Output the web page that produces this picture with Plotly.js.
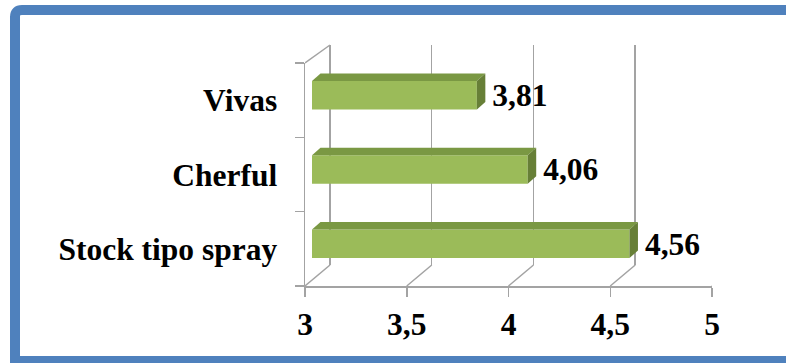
<!DOCTYPE html>
<html>
<head>
<meta charset="utf-8">
<script src="https://cdn.plot.ly/plotly-3.0.1.min.js"></script>
<style>
  html, body { margin: 0; padding: 0; background: #ffffff; }
  #chart { width: 786px; height: 363px; }
</style>
</head>
<body>
<div id="chart"></div>
<script>
// Survey scores per product (bottom to top as drawn)
const categories = ['Stock tipo spray', 'Cherful', 'Vivas'];
const scores = [4.56, 4.06, 3.81];
const xTicks = [3, 3.5, 4, 4.5, 5];

// ---- geometry (pixels) ----
const W = 786, H = 363;
const px = x => x / W;
const py = y => 1 - y / H;
const X0 = 305, X1 = 712;          // front floor edge: value 3 .. 5
const FLOOR_Y = 286, TOP_Y = 63;   // front plane vertical extent
const BACK_DX = 25, BACK_DY = 21;  // depth of the chart box
const BAR_DX = 7, BAR_DY = 5;      // front face of the bars sits a little inside
const FACE_DX = 8.5, FACE_DY = 7.5; // bar depth
const BAR_W = 0.383;
const LABEL_GAP = 7;
const xMin = 3, xMax = 5;
const unitX = (X1 - X0) / (xMax - xMin);
const unitY = (FLOOR_Y - TOP_Y) / categories.length;

const GRID = '#a3a3a3';
const GREEN = '#9bbb59', GREEN_TOP = '#7a9843', GREEN_SIDE = '#677f37';
const FONT = { family: 'Liberation Serif, Times New Roman, serif', size: 31.5, color: '#000000', weight: 'bold' };

const idx = categories.map((_, i) => i);
const dx = FACE_DX / unitX, dy = FACE_DY / unitY;

const traces = [];

// front plane (category axis and value axis)
traces.push({ type: 'scatter', mode: 'markers', x: [null], y: [null], xaxis: 'x', yaxis: 'y', hoverinfo: 'skip', showlegend: false });
// boundary ticks of the category axis
traces.push({ type: 'scatter', mode: 'markers', x: [null], y: [null], xaxis: 'x', yaxis: 'y3', hoverinfo: 'skip', showlegend: false });
// back wall (carries the vertical gridlines)
traces.push({ type: 'scatter', mode: 'markers', x: [null], y: [null], xaxis: 'x2', yaxis: 'y2', hoverinfo: 'skip', showlegend: false });

// bar front faces
traces.push({
  type: 'bar', orientation: 'h', x: scores, y: idx, width: BAR_W,
  xaxis: 'x3', yaxis: 'y4',
  marker: { color: GREEN, line: { width: 0 } },
  hoverinfo: 'skip', showlegend: false
});

// bar top and side faces
idx.forEach((c, i) => {
  const v = scores[i];
  const t = c + BAR_W / 2, b = c - BAR_W / 2;
  traces.push({
    type: 'scatter', mode: 'lines', xaxis: 'x3', yaxis: 'y4',
    x: [xMin, v, v + dx, xMin + dx, xMin],
    y: [t, t, t + dy, t + dy, t],
    fill: 'toself', fillcolor: GREEN_TOP, line: { width: 0 },
    hoverinfo: 'skip', showlegend: false
  });
  traces.push({
    type: 'scatter', mode: 'lines', xaxis: 'x3', yaxis: 'y4',
    x: [v, v + dx, v + dx, v, v],
    y: [b, b + dy, t + dy, t, b],
    fill: 'toself', fillcolor: GREEN_SIDE, line: { width: 0 },
    hoverinfo: 'skip', showlegend: false
  });
});

// value labels
traces.push({
  type: 'scatter', mode: 'text', xaxis: 'x3', yaxis: 'y4',
  x: scores.map(v => v + dx + LABEL_GAP / unitX), y: idx.map(c => c - 3 / unitY),
  text: scores.map(v => v.toFixed(2).replace('.', ',')),
  textposition: 'middle right', textfont: FONT, cliponaxis: false,
  hoverinfo: 'skip', showlegend: false
});

// floor diagonals and the top edge of the left wall
const shapes = xTicks.map(t => ({
  type: 'line', xref: 'x', yref: 'paper',
  x0: t, y0: py(FLOOR_Y), x1: t + BACK_DX / unitX, y1: py(FLOOR_Y - BACK_DY),
  line: { color: GRID, width: 1.5 }
}));
shapes.push({
  type: 'line', xref: 'x', yref: 'paper',
  x0: xMin, y0: py(TOP_Y), x1: xMin + BACK_DX / unitX, y1: py(TOP_Y - 18),
  line: { color: GRID, width: 1.5 }
});
// outer frame
shapes.push({
  type: 'path', xref: 'paper', yref: 'paper', layer: 'above',
  path: `M ${px(800)},${py(361)} L ${px(15)},${py(361)} L ${px(15)},${py(17)} Q ${px(15)},${py(10)} ${px(22)},${py(10)} L ${px(800)},${py(10)}`,
  line: { color: '#4f81bd', width: 10 }
});

const yDom = [py(FLOOR_Y), py(TOP_Y)];
const backPad = 0.01; // keeps the first back gridline inside the range
const layout = {
  width: W, height: H,
  margin: { l: 0, r: 0, t: 0, b: 0 },
  paper_bgcolor: '#ffffff', plot_bgcolor: 'rgba(0,0,0,0)',
  separators: ',.',
  showlegend: false,
  xaxis: {
    domain: [px(X0), px(X1)], range: [xMin, xMax], anchor: 'y',
    tickmode: 'array', tickvals: xTicks,
    ticks: 'outside', ticklen: 9, tickwidth: 1.5, tickcolor: GRID,
    showline: true, linecolor: GRID, linewidth: 1.5,
    showgrid: false, zeroline: false, tickfont: FONT, ticklabelstandoff: 1, fixedrange: true
  },
  yaxis: {
    domain: yDom, range: [-0.5, categories.length - 0.5], anchor: 'x',
    tickmode: 'array', tickvals: idx, ticktext: categories,
    ticks: '', showline: true, linecolor: GRID, linewidth: 1.5,
    showgrid: false, zeroline: false, tickfont: FONT, ticklabelstandoff: 20, fixedrange: true
  },
  yaxis3: {
    overlaying: 'y', anchor: 'x', side: 'left',
    range: [-0.5, categories.length - 0.5],
    tickmode: 'array', tickvals: [-0.5].concat(idx.map(c => c + 0.5)),
    ticks: 'outside', ticklen: 9, tickwidth: 1.5, tickcolor: GRID,
    showticklabels: false, showline: false, showgrid: false, zeroline: false, fixedrange: true
  },
  xaxis2: {
    domain: [px(X0 + BACK_DX - backPad * unitX), px(X1 + BACK_DX)], range: [xMin - backPad, xMax], anchor: 'y2',
    tickmode: 'array', tickvals: xTicks, ticks: '', showticklabels: false,
    showgrid: true, gridcolor: GRID, gridwidth: 1.5,
    showline: false, zeroline: false, fixedrange: true
  },
  yaxis2: {
    domain: [py(FLOOR_Y - BACK_DY), py(45)], range: [0, 1], anchor: 'x2',
    visible: false, fixedrange: true
  },
  xaxis3: {
    domain: [px(X0 + BAR_DX), px(X1 + BAR_DX)], range: [xMin, xMax], anchor: 'y4',
    visible: false, fixedrange: true
  },
  yaxis4: {
    domain: [yDom[0] + BAR_DY / H, yDom[1] + BAR_DY / H], range: [-0.5, categories.length - 0.5], anchor: 'x3',
    visible: false, fixedrange: true
  },
  shapes: shapes
};

Plotly.newPlot('chart', traces, layout, { staticPlot: true, displayModeBar: false });
</script>
</body>
</html>
